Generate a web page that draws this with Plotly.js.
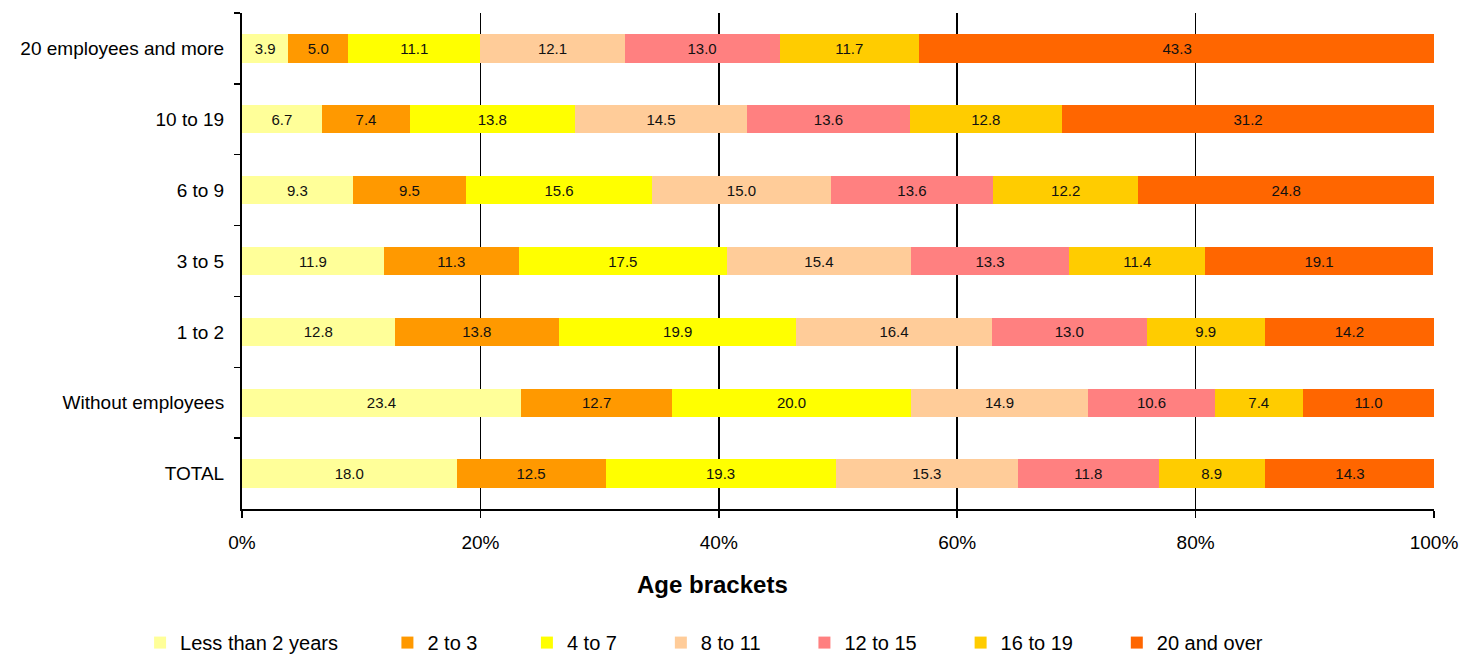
<!DOCTYPE html>
<html>
<head>
<meta charset="utf-8">
<script src="https://cdn.plot.ly/plotly-3.0.1.min.js"></script>
<style>
html,body{margin:0;padding:0;background:#fff;}
#chart{width:1461px;height:656px;}
</style>
</head>
<body>
<div id="chart"></div>
<script>
// Categories, top to bottom as shown
const categories = ["20 employees and more", "10 to 19", "6 to 9", "3 to 5", "1 to 2", "Without employees", "TOTAL"];
const seriesNames = ["Less than 2 years", "2 to 3", "4 to 7", "8 to 11", "12 to 15", "16 to 19", "20 and over"];
const lessThan2 = [3.9, 6.7, 9.3, 11.9, 12.8, 23.4, 18.0];
const y2to3     = [5.0, 7.4, 9.5, 11.3, 13.8, 12.7, 12.5];
const y4to7     = [11.1, 13.8, 15.6, 17.5, 19.9, 20.0, 19.3];
const y8to11    = [12.1, 14.5, 15.0, 15.4, 16.4, 14.9, 15.3];
const y12to15   = [13.0, 13.6, 13.6, 13.3, 13.0, 10.6, 11.8];
const y16to19   = [11.7, 12.8, 12.2, 11.4, 9.9, 7.4, 8.9];
const y20plus   = [43.3, 31.2, 24.8, 19.1, 14.2, 11.0, 14.3];
const tickVals = [0, 20, 40, 60, 80, 100];
const tickLabels = ["0%", "20%", "40%", "60%", "80%", "100%"];

const seriesValues = [lessThan2, y2to3, y4to7, y8to11, y12to15, y16to19, y20plus];
const colors = ["#FFFF99", "#FF9900", "#FFFF00", "#FFCC99", "#FF8080", "#FFCC00", "#FF6600"];
const padCounts = [8, 8, 7, 7, 7, 7, 0];

const FONT = "Liberation Sans, Arial, sans-serif";

const traces = seriesValues.map((vals, i) => ({
  type: "bar",
  orientation: "h",
  name: seriesNames[i] + "\u00a0".repeat(padCounts[i]),
  y: categories,
  x: vals,
  width: 0.4,
  marker: {color: colors[i], line: {width: 0}},
  texttemplate: "%{x:.1f}",
  textposition: "inside",
  insidetextanchor: "middle",
  textangle: 0,
  constraintext: "none",
  textfont: {family: FONT, size: 15, color: "#111"},
  hoverinfo: "name+x"
}));

const layout = {
  width: 1461,
  height: 656,
  margin: {l: 242, r: 27, t: 13, b: 147, pad: 0, autoexpand: false},
  paper_bgcolor: "#fff",
  plot_bgcolor: "#fff",
  barmode: "stack",
  bargap: 0.6,
  font: {family: FONT, size: 19, color: "#000"},
  xaxis: {
    range: [0, 100],
    tickvals: tickVals,
    ticktext: tickLabels,
    showgrid: true,
    gridcolor: "#000",
    gridwidth: 1.5,
    zeroline: false,
    showline: true,
    linecolor: "#000",
    linewidth: 2,
    ticks: "outside",
    ticklen: 7,
    tickwidth: 1.5,
    tickcolor: "#000",
    ticklabelstandoff: 8,
    tickfont: {family: FONT, size: 19, color: "#000"},
    automargin: false,
    fixedrange: true
  },
  yaxis: {
    type: "category",
    autorange: "reversed",
    showgrid: false,
    zeroline: false,
    showline: true,
    linecolor: "#000",
    linewidth: 2,
    ticks: "outside",
    tickson: "boundaries",
    ticklen: 6,
    tickwidth: 1.5,
    tickcolor: "#000",
    ticklabelstandoff: 12,
    tickfont: {family: FONT, size: 19, color: "#000"},
    automargin: false,
    fixedrange: true
  },
  showlegend: true,
  legend: {
    orientation: "h",
    xref: "paper",
    x: -0.0855,
    xanchor: "left",
    yref: "paper",
    y: -0.230,
    yanchor: "top",
    font: {family: FONT, size: 20, color: "#000"},
    traceorder: "normal",
    bgcolor: "rgba(0,0,0,0)"
  },
  annotations: [{
    text: "<b>Age brackets</b>",
    xref: "paper", yref: "paper",
    x: 0.395, y: -0.153,
    xanchor: "center", yanchor: "middle",
    showarrow: false,
    font: {family: FONT, size: 24, color: "#000"}
  }]
};

Plotly.newPlot("chart", traces, layout, {displayModeBar: false, staticPlot: true});
</script>
</body>
</html>
